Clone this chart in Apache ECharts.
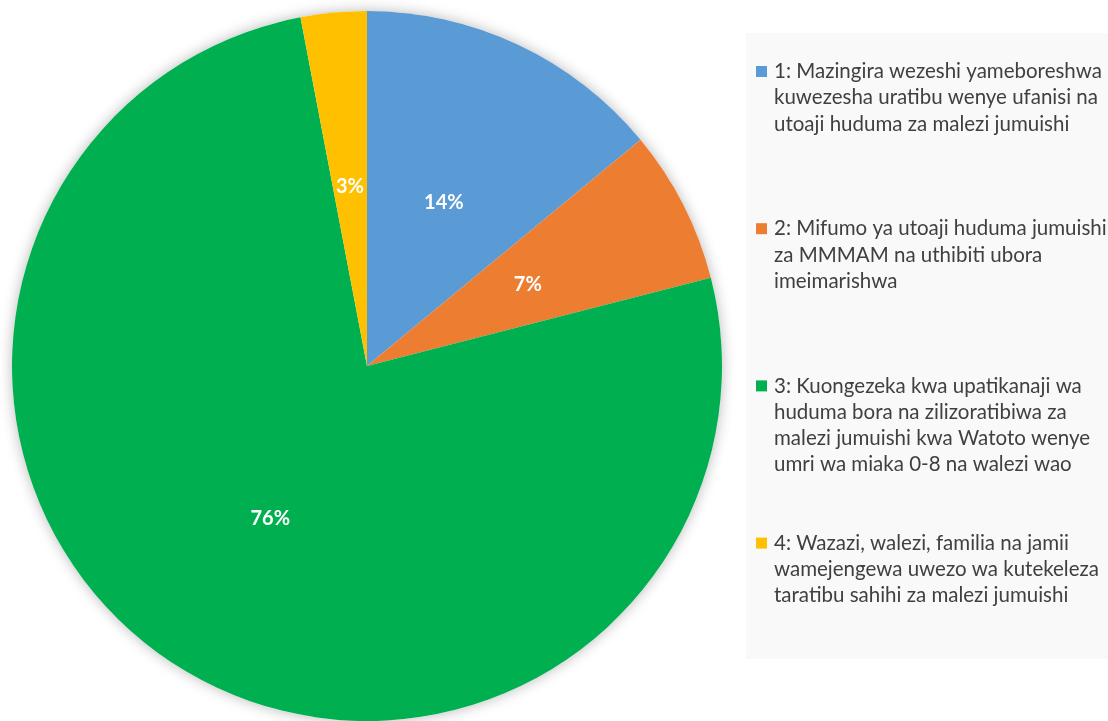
<!DOCTYPE html>
<html>
<head>
<meta charset="utf-8">
<script src="https://cdn.jsdelivr.net/npm/echarts@6/dist/echarts.min.js"></script>
<style>
html, body { margin: 0; padding: 0; background: #fff; }
#chart { width: 1108px; height: 721px; }
</style>
</head>
<body>
<div id="chart"></div>
<script>
// legend text, wrapped the same way as the original
const categoryLines = [
    ['1: Mazingira wezeshi yameboreshwa', 'kuwezesha uratibu wenye ufanisi na', 'utoaji huduma za malezi jumuishi'],
    ['2: Mifumo ya utoaji huduma jumuishi', 'za MMMAM na uthibiti ubora', 'imeimarishwa'],
    ['3: Kuongezeka kwa upatikanaji wa', 'huduma bora na zilizoratibiwa za', 'malezi jumuishi kwa Watoto wenye', 'umri wa miaka 0-8 na walezi wao'],
    ['4: Wazazi, walezi, familia na jamii', 'wamejengewa uwezo wa kutekeleza', 'taratibu sahihi za malezi jumuishi'],
]
const categories = categoryLines.map(lines => lines.join(' '))
const shareValues = [14, 7, 76, 3]
const sliceColors = ['#5b9bd5', '#ed7d31', '#00b050', '#ffc000']

const LINE_H = 26.2
const SLOT_LINES = 6
const FONT = 'Lato, "Open Sans", sans-serif'

const total = shareValues.reduce((a, b) => a + b, 0)

const legendRich = {
    gap: { width: 7, height: 11 },
    ind: { width: 18, height: 11 },
    t: { fontSize: 20.5, color: '#404040', fontFamily: FONT, lineHeight: LINE_H },
}
sliceColors.forEach((c, i) => {
    legendRich['sq' + i] = { width: 11, height: 11, backgroundColor: c }
})

const formatLegend = name => {
    const idx = categories.indexOf(name)
    const lines = categoryLines[idx]
    const rows = [`{sq${idx}|}{gap|}{t|${lines[0]}}`]
    lines.slice(1).forEach(l => rows.push(`{ind|}{t|${l}}`))
    // pad each entry to the same slot height, except the last one
    if (idx < categories.length - 1) {
        for (let k = lines.length; k < SLOT_LINES; k++) rows.push('{ind|}')
    }
    return rows.join('\n')
}

const chart = echarts.init(document.getElementById('chart'))

chart.setOption({
    animation: false,
    color: sliceColors,
    legend: {
        orient: 'vertical',
        left: 746,
        top: 33,
        padding: [25.4, 40, 50.4, 5],
        itemGap: 0,
        itemWidth: 0,
        itemHeight: 11,
        icon: 'none',
        backgroundColor: '#f9f9f9',
        selectedMode: false,
        data: categories,
        formatter: formatLegend,
        textStyle: {
            fontSize: 20.5,
            fontFamily: FONT,
            color: '#404040',
            lineHeight: LINE_H,
            rich: legendRich,
        },
    },
    series: [
        {
            // backing disc that carries the soft outer shadow
            name: 'shadow',
            type: 'pie',
            silent: true,
            center: [367, 366],
            radius: 355,
            startAngle: 90,
            label: { show: false },
            labelLine: { show: false },
            itemStyle: {
                color: '#ffffff',
                shadowBlur: 14,
                shadowColor: 'rgba(0, 0, 0, 0.28)',
            },
            data: [{ name: 'total', value: total }],
        },
        {
            name: 'share',
            type: 'pie',
            center: [367, 366],
            radius: 355,
            startAngle: 90,
            clockwise: true,
            itemStyle: { borderWidth: 0 },
            label: {
                show: true,
                position: 'inside',
                formatter: '{c}%',
                color: '#ffffff',
                fontSize: 20,
                fontWeight: 'bold',
                fontFamily: FONT,
            },
            labelLine: { show: false },
            emphasis: { disabled: true },
            data: categories.map((name, i) => ({
                name,
                value: shareValues[i],
                itemStyle: { color: sliceColors[i] },
            })),
        },
    ],
})
</script>
</body>
</html>
